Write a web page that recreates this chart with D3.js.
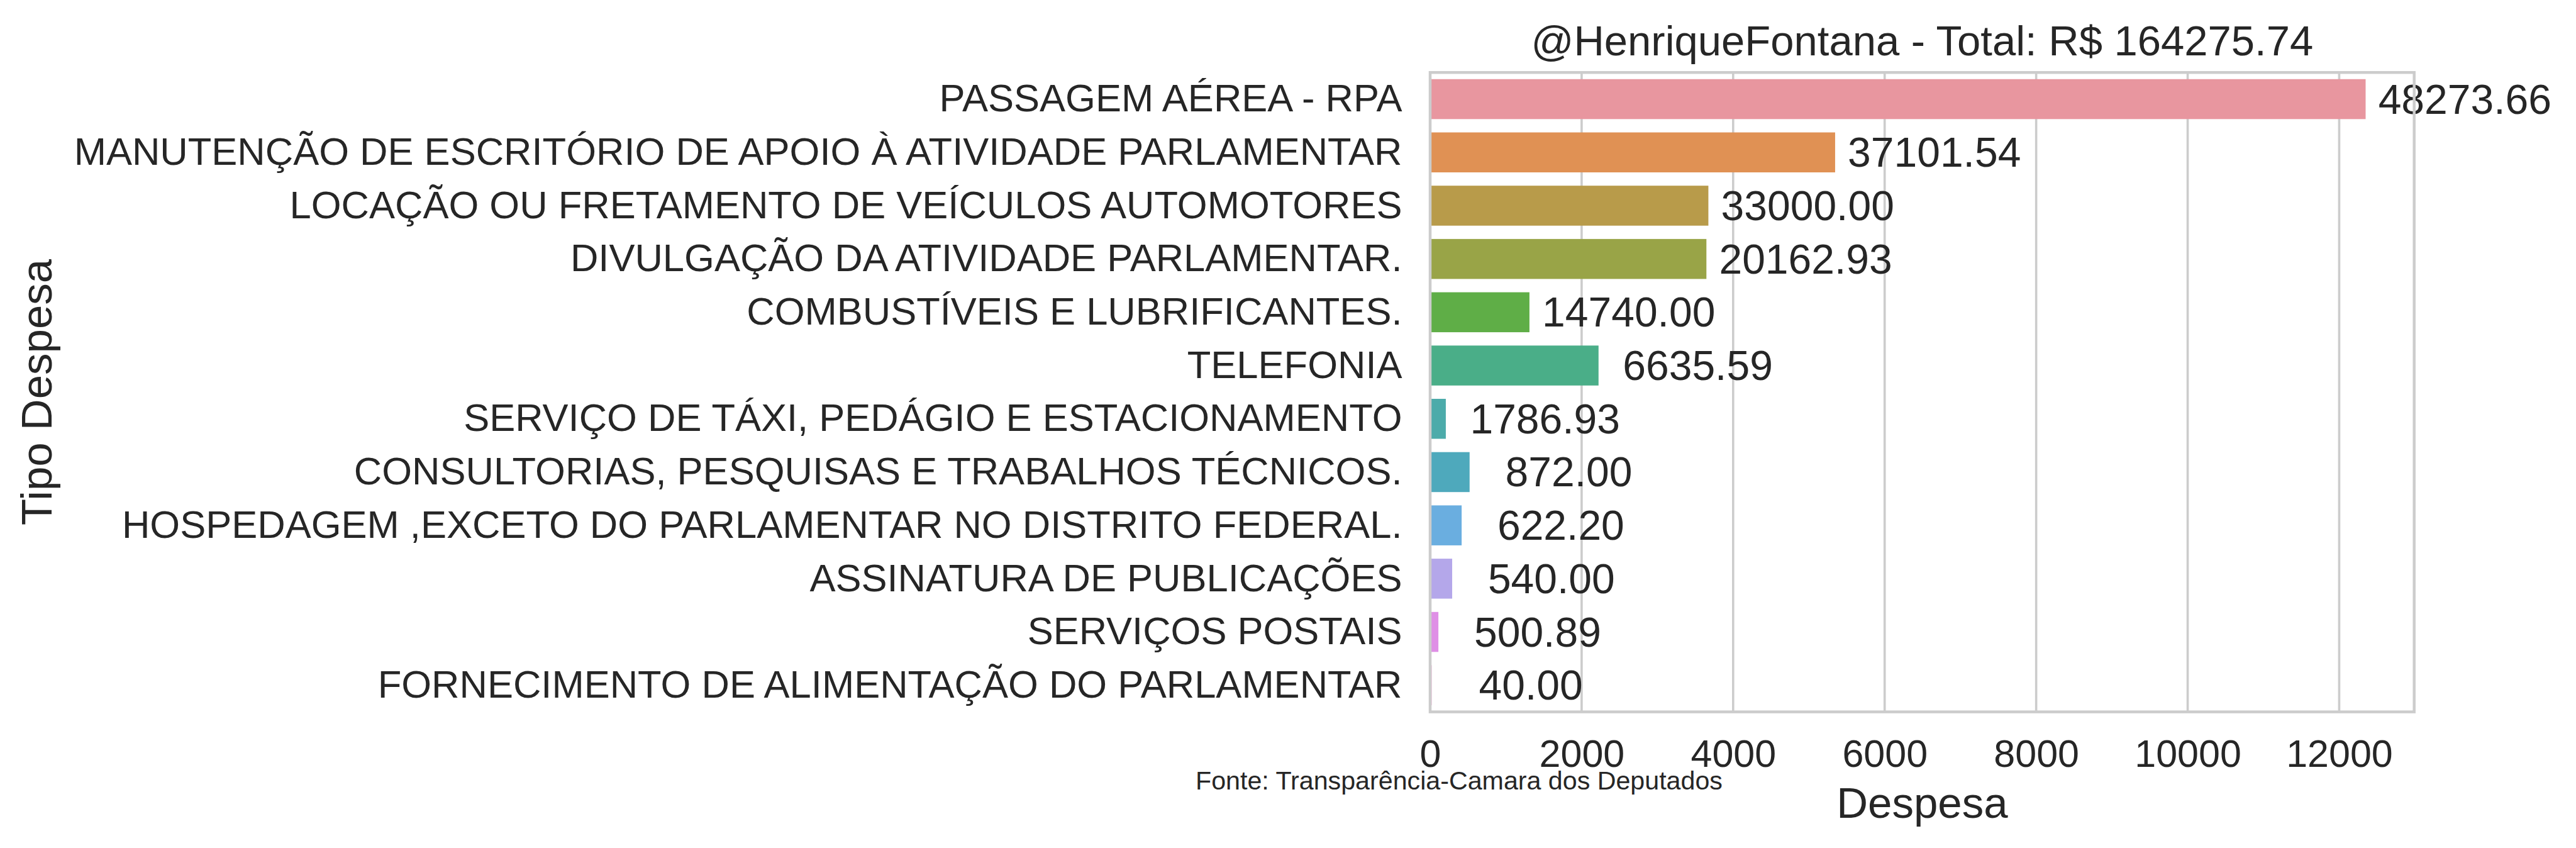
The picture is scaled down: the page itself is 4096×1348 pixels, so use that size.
<!DOCTYPE html>
<html>
<head>
<meta charset="utf-8">
<script src="https://cdn.jsdelivr.net/npm/d3@7"></script>
<style>
  html, body { margin: 0; padding: 0; background: #ffffff; }
  svg { display: block; }
  text { font-family: "Liberation Sans", Arial, sans-serif; fill: #262626; }
</style>
</head>
<body>
<script>
// ---- data ----
const categories = [
  "PASSAGEM AÉREA - RPA",
  "MANUTENÇÃO DE ESCRITÓRIO DE APOIO À ATIVIDADE PARLAMENTAR",
  "LOCAÇÃO OU FRETAMENTO DE VEÍCULOS AUTOMOTORES",
  "DIVULGAÇÃO DA ATIVIDADE PARLAMENTAR.",
  "COMBUSTÍVEIS E LUBRIFICANTES.",
  "TELEFONIA",
  "SERVIÇO DE TÁXI, PEDÁGIO E ESTACIONAMENTO",
  "CONSULTORIAS, PESQUISAS E TRABALHOS TÉCNICOS.",
  "HOSPEDAGEM ,EXCETO DO PARLAMENTAR NO DISTRITO FEDERAL.",
  "ASSINATURA DE PUBLICAÇÕES",
  "SERVIÇOS POSTAIS",
  "FORNECIMENTO DE ALIMENTAÇÃO DO PARLAMENTAR"
];
const barValues = [12349, 5346, 3673, 3647, 1311, 2223, 207, 521, 416, 291, 109, 20];
// totals printed next to bars
const totals = [48273.66, 37101.54, 33000.00, 20162.93, 14740.00, 6635.59, 1786.93, 872.00, 622.20, 540.00, 500.89, 40.00];
const colors = ["#e8969f", "#e09154", "#b89b4a", "#99a447", "#5fae47", "#4aae88",
                "#4cabaa", "#4ea9bc", "#6aaee0", "#b4a7ea", "#df8fe6", "#e891c4"];
const xTicks = [0, 2000, 4000, 6000, 8000, 10000, 12000];
const xMax = 12990;
const labelOffset = 1310; // data units from bar end to label centre
const titleText = "@HenriqueFontana - Total: R$ " + d3.sum(totals).toFixed(2);
const xLabel = "Despesa";
const yLabel = "Tipo Despesa";
const footer = "Fonte: Transparência-Camara dos Deputados";

// ---- layout ----
const W = 4096, H = 1348;
const plot = { left: 2274, right: 3838.7, top: 115.2, bottom: 1131.6 };

const svg = d3.select("body").append("svg").attr("width", W).attr("height", H);

const x = d3.scaleLinear().domain([0, xMax]).range([plot.left, plot.right]);
const y = d3.scaleBand().domain(categories).range([plot.top, plot.bottom])
  .paddingInner(0.25).paddingOuter(0.125);

// grid lines
svg.append("g").selectAll("line").data(xTicks).join("line")
  .attr("x1", d => x(d)).attr("x2", d => x(d))
  .attr("y1", plot.top).attr("y2", plot.bottom)
  .attr("stroke", "#cccccc").attr("stroke-width", 3.6);

// bars
svg.append("g").selectAll("rect").data(categories).join("rect")
  .attr("x", x(0))
  .attr("y", d => y(d))
  .attr("width", (d, i) => x(barValues[i]) - x(0))
  .attr("height", y.bandwidth())
  .attr("fill", (d, i) => colors[i]);

// value labels
svg.append("g").selectAll("text").data(categories).join("text")
  .attr("x", (d, i) => x(barValues[i] + labelOffset))
  .attr("y", d => y(d) + y.bandwidth() / 2)
  .attr("text-anchor", "middle")
  .attr("dominant-baseline", "central")
  .attr("font-size", 66)
  .text((d, i) => totals[i].toFixed(2));

// spines
svg.append("rect")
  .attr("x", plot.left).attr("y", plot.top)
  .attr("width", plot.right - plot.left).attr("height", plot.bottom - plot.top)
  .attr("fill", "none").attr("stroke", "#cccccc").attr("stroke-width", 4.5);

// y axis (category labels)
const yAxis = d3.axisLeft(y).tickSize(0).tickPadding(44.5);
const gy = svg.append("g").attr("transform", `translate(${plot.left},0)`).call(yAxis);
gy.select(".domain").remove();
gy.selectAll("text").attr("font-size", 61.5).attr("fill", "#262626")
  .attr("font-family", "Liberation Sans, Arial, sans-serif");

// x axis (tick labels)
const xAxis = d3.axisBottom(x).tickValues(xTicks).tickFormat(d3.format("d")).tickSize(0).tickPadding(44);
const gx = svg.append("g").attr("transform", `translate(0,${plot.bottom})`).call(xAxis);
gx.select(".domain").remove();
gx.selectAll("text").attr("font-size", 61).attr("fill", "#262626")
  .attr("font-family", "Liberation Sans, Arial, sans-serif");

// title
svg.append("text")
  .attr("x", (plot.left + plot.right) / 2).attr("y", 87.5)
  .attr("text-anchor", "middle").attr("font-size", 67)
  .text(titleText);

// axis labels
svg.append("text")
  .attr("x", (plot.left + plot.right) / 2).attr("y", 1300)
  .attr("text-anchor", "middle").attr("font-size", 69)
  .text(xLabel);

svg.append("text")
  .attr("transform", `translate(81.6,${(plot.top + plot.bottom) / 2}) rotate(-90)`)
  .attr("text-anchor", "middle").attr("font-size", 69)
  .text(yLabel);

// footer
svg.append("text")
  .attr("x", 1901).attr("y", 1255)
  .attr("font-size", 41.2)
  .text(footer);
</script>
</body>
</html>
